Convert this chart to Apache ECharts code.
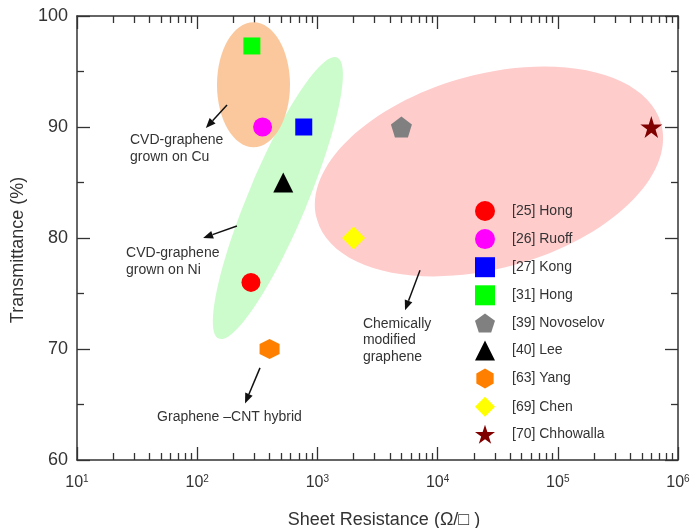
<!DOCTYPE html>
<html>
<head>
<meta charset="utf-8">
<script src="https://cdn.jsdelivr.net/npm/echarts@6/dist/echarts.min.js"></script>
<style>html,body{margin:0;padding:0;background:#fff;}#c{width:693px;height:528px;}</style>
</head>
<body>
<div id="c"></div>
<script>
// ---- data ----
const seriesNames = ['[25] Hong', '[26] Ruoff', '[27] Kong', '[31] Hong', '[39] Novoselov', '[40] Lee', '[63] Yang', '[69] Chen', '[70] Chhowalla'];
const sheetResistance = [280, 350, 770, 285, 5000, 520, 400, 2000, 600000];
const transmittance = [76, 90, 90, 97.3, 90, 85, 70, 80, 90];
const xMajorTicks = [10, 100, 1000, 10000, 100000, 1000000];
const yTicks = [60, 70, 80, 90, 100];
// region ellipses: centres in data units
const regionCentersX = [470, 294, 26800];
const regionCentersY = [83.6, 93.8, 86.0];
// annotations
const annotationTexts = ['CVD-graphene\ngrown on Cu', 'CVD-graphene\ngrown on Ni', 'Graphene \u2013CNT hybrid', 'Chemically\nmodified\ngraphene'];
const annotationX = [27.6, 25.6, 46.4, 2390];
const annotationY = [89.6, 79.4, 64.6, 73.0];
const arrowFromX = [177, 214, 333, 7140];
const arrowFromY = [91.98, 81.08, 68.3, 77.1];
const arrowToX = [118, 112, 250, 5360];
const arrowToY = [89.9, 80.0, 65.1, 73.5];

// ---- styles ----
const symbols = ['circle', 'circle', 'rect', 'rect',
  'path://M50,0 L97.6,34.5 L79.4,90.5 L20.6,90.5 L2.4,34.5 Z',
  'triangle',
  'path://M50,0 L93.3,25 L93.3,75 L50,100 L6.7,75 L6.7,25 Z',
  'diamond',
  'path://M50,0 L61.2,34.5 L97.6,34.5 L68.2,55.9 L79.4,90.5 L50,69.1 L20.6,90.5 L31.8,55.9 L2.4,34.5 L38.8,34.5 Z'];
const symbolSizes = [19, 19, 17, 17, 21, 20, 20, 23, 22];
const colors = ['#ff0000', '#ff00ff', '#0000ff', '#00ff00', '#808080', '#000000', '#ff8000', '#ffff00', '#800000'];
const regionStyle = [
  {rx: 152.5, ry: 29.3, rot: 67.2, color: '#ccfccc'},
  {rx: 36.5, ry: 62.5, rot: 0, color: '#fac89c'},
  {rx: 178.6, ry: 97, rot: 15.5, color: '#ffcccc'}
];
const FONT = "'Liberation Sans', Arial, Helvetica, sans-serif";
const TXT = '#333333';
const AXC = '#333333';

const xMinorTicks = [];
for (let e = 1; e < 6; e++) for (let k = 2; k <= 9; k++) xMinorTicks.push(k * Math.pow(10, e));

function xAxisDef(pos, major, showLabel) {
  return {
    type: 'log', logBase: 10, min: 10, max: 1000000, position: pos,
    axisLine: {show: major, lineStyle: {color: AXC, width: 1.5}},
    axisTick: {show: true, inside: true, length: major ? 13 : 7, lineStyle: {color: AXC, width: 1.3},
      customValues: major ? xMajorTicks : xMinorTicks},
    axisLabel: showLabel ? {
      show: true, margin: 14, customValues: xMajorTicks,
      formatter: v => '{b|10}{s|' + Math.round(Math.log10(v)) + '}',
      rich: {b: {fontSize: 16, fontFamily: FONT, color: TXT, lineHeight: 18},
             s: {fontSize: 10, fontFamily: FONT, color: TXT, lineHeight: 18, verticalAlign: 'top'}}
    } : {show: false},
    splitLine: {show: false}
  };
}
function yAxisDef(pos, showLabel) {
  return {
    type: 'value', min: 60, max: 100, interval: 10, position: pos,
    axisLine: {show: true, lineStyle: {color: AXC, width: 1.5}},
    axisTick: {show: true, inside: true, length: 13, lineStyle: {color: AXC, width: 1.3}},
    minorTick: {show: true, splitNumber: 2, length: 7, lineStyle: {color: AXC, width: 1.3}},
    axisLabel: showLabel ? {show: true, fontSize: 18, fontFamily: FONT, color: TXT, margin: 9} : {show: false},
    splitLine: {show: false}
  };
}

const xAxes = [xAxisDef('bottom', true, true), xAxisDef('bottom', false, false), xAxisDef('top', true, false), xAxisDef('top', false, false)];
xAxes[0].name = 'Sheet Resistance (\u03a9/\u25a1 )';
xAxes[0].nameLocation = 'middle';
xAxes[0].nameGap = 51;
xAxes[0].nameTextStyle = {fontSize: 18, fontFamily: FONT, color: TXT, padding: [0, 0, 0, 13]};
const yAxes = [yAxisDef('left', true), yAxisDef('right', false)];
yAxes[0].name = 'Transmittance (%)';
yAxes[0].nameLocation = 'middle';
yAxes[0].nameGap = 45;
yAxes[0].nameTextStyle = {fontSize: 18, fontFamily: FONT, color: TXT, padding: [0, 24, 0, 0]};

const series = [];
series.push({
  type: 'custom', name: 'regions', silent: true, z: 1, xAxisIndex: 0, yAxisIndex: 0,
  encode: {x: 0, y: 1},
  data: regionCentersX.map((x, i) => [x, regionCentersY[i]]),
  renderItem: (params, api) => {
    const c = api.coord([api.value(0), api.value(1)]);
    const e = regionStyle[params.dataIndex];
    return {type: 'ellipse', x: c[0], y: c[1], rotation: e.rot * Math.PI / 180,
      shape: {cx: 0, cy: 0, rx: e.rx, ry: e.ry}, style: {fill: e.color}};
  }
});
series.push({
  type: 'custom', name: 'arrows', silent: true, z: 2, xAxisIndex: 0, yAxisIndex: 0,
  encode: {x: [0, 2], y: [1, 3]},
  data: arrowFromX.map((x, i) => [x, arrowFromY[i], arrowToX[i], arrowToY[i]]),
  renderItem: (params, api) => {
    const p1 = api.coord([api.value(0), api.value(1)]);
    const p2 = api.coord([api.value(2), api.value(3)]);
    const a = Math.atan2(p2[1] - p1[1], p2[0] - p1[0]);
    const hl = 10, hw = 4;
    const bx = p2[0] - hl * Math.cos(a), by = p2[1] - hl * Math.sin(a);
    const nx = -Math.sin(a), ny = Math.cos(a);
    return {type: 'group', children: [
      {type: 'line', shape: {x1: p1[0], y1: p1[1], x2: bx, y2: by}, style: {stroke: '#111', lineWidth: 1.5}},
      {type: 'polygon', shape: {points: [[p2[0], p2[1]], [bx + nx * hw, by + ny * hw], [bx - nx * hw, by - ny * hw]]}, style: {fill: '#111'}}
    ]};
  }
});
series.push({
  type: 'custom', name: 'notes', silent: true, z: 2, xAxisIndex: 0, yAxisIndex: 0,
  encode: {x: 0, y: 1},
  data: annotationX.map((x, i) => [x, annotationY[i]]),
  renderItem: (params, api) => {
    const c = api.coord([api.value(0), api.value(1)]);
    return {type: 'text', x: c[0], y: c[1], style: {
      text: annotationTexts[params.dataIndex], fontSize: 14, fontFamily: FONT, fill: TXT,
      lineHeight: params.dataIndex === 3 ? 16.5 : 17, align: 'left', verticalAlign: 'top'}};
  }
});
seriesNames.forEach((n, i) => {
  series.push({
    type: 'scatter', name: n, z: 3, xAxisIndex: 0, yAxisIndex: 0,
    symbol: symbols[i], symbolSize: symbolSizes[i],
    itemStyle: {color: colors[i], opacity: 1},
    data: [[sheetResistance[i], transmittance[i]]]
  });
});

const chart = echarts.init(document.getElementById('c'), null, {renderer: 'canvas'});
chart.setOption({
  animation: false,
  backgroundColor: '#ffffff',
  grid: {left: 77, right: 15, top: 16, bottom: 68, containLabel: false, outerBoundsMode: 'none'},
  xAxis: xAxes,
  yAxis: yAxes,
  legend: {
    data: seriesNames, orient: 'vertical', left: 470, top: 196,
    itemWidth: 20, itemHeight: 20, itemGap: 8.1,
    textStyle: {fontSize: 14, fontFamily: FONT, color: TXT, padding: [0, 0, 0, 12]},
    selectedMode: false
  },
  series: series
});
</script>
</body>
</html>
